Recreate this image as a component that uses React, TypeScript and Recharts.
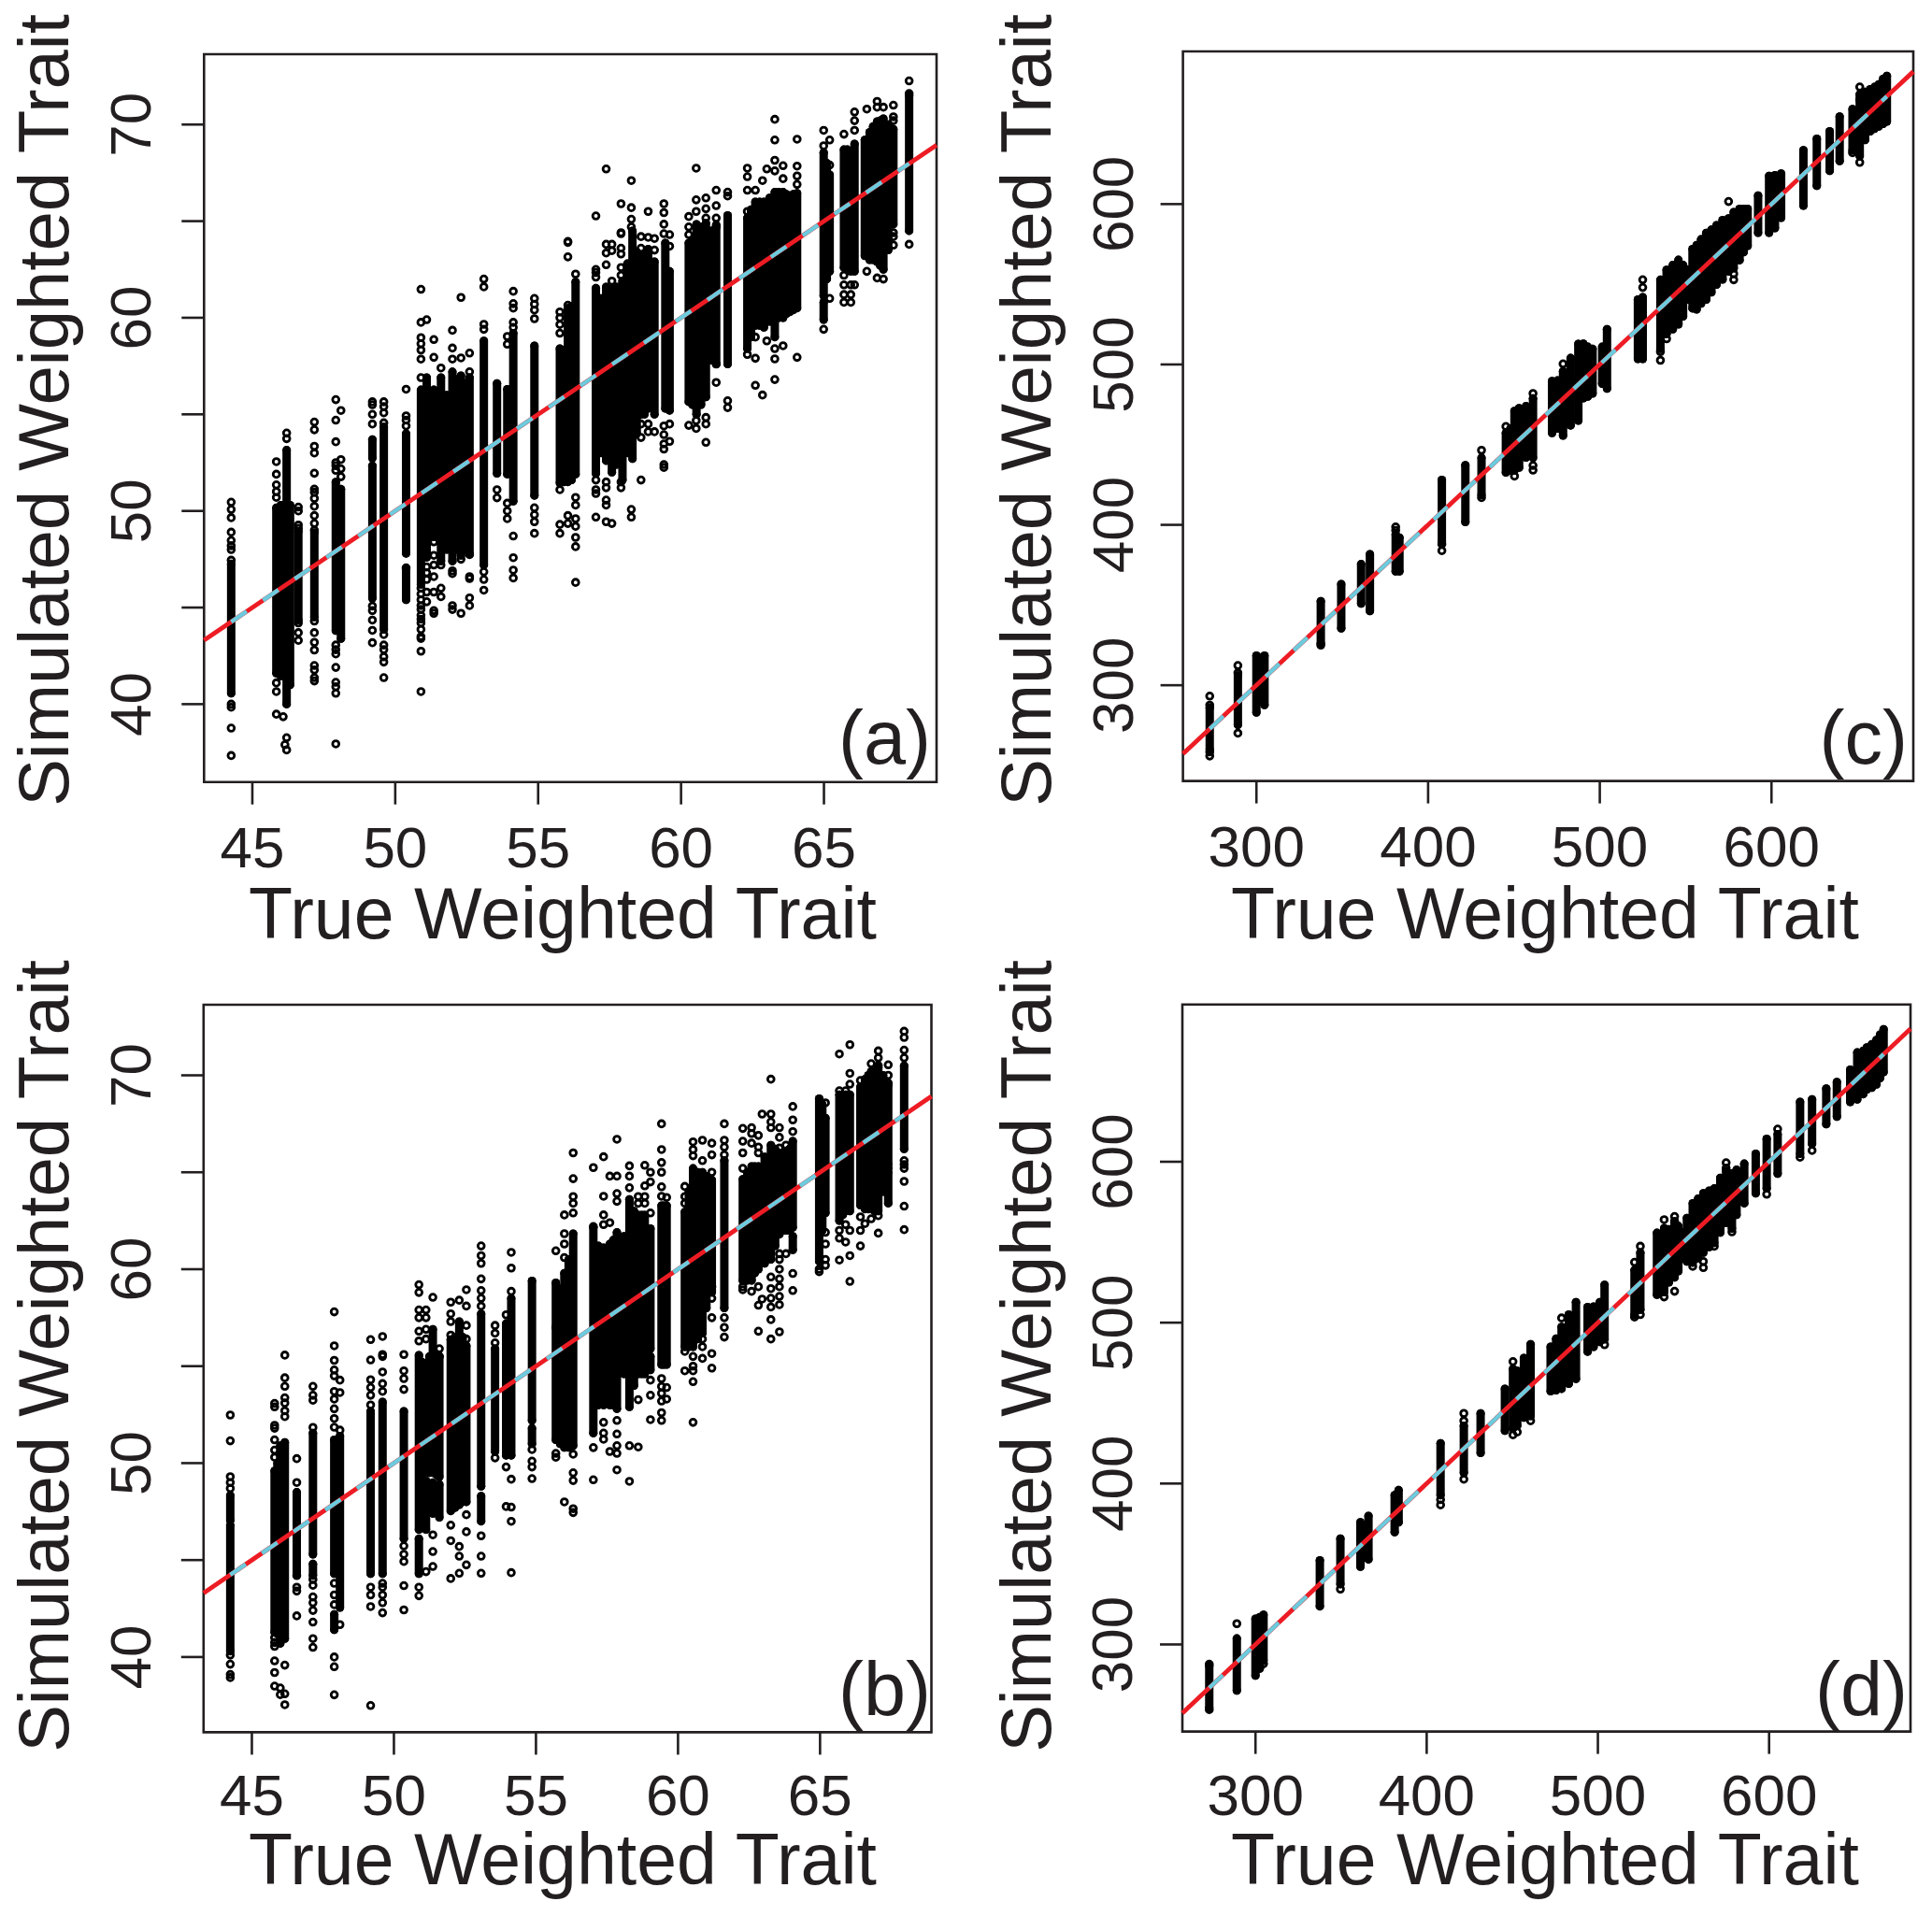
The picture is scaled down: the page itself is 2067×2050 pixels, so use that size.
import React from 'react';
import { ScatterChart, Scatter, XAxis, YAxis, ErrorBar, ReferenceLine, ReferenceArea } from 'recharts';

const xLabel = 'True Weighted Trait';
const yLabel = 'Simulated Weighted Trait';

const lowXTicks = [45, 50, 55, 60, 65];
const lowYTicks = [40, 45, 50, 55, 60, 65, 70];
const lowYLabels = [40, 50, 60, 70];
const highXTicks = [300, 400, 500, 600];
const highYTicks = [300, 400, 500, 600];

// Solid runs of overplotted points in panel (a): [true value, lowest, highest]
const aBands = [
  [44.26, 40.56, 47.26], [45.84, 41.6, 50.16], [46.0, 41.45, 50.3], [46.2, 40.0, 53.15], [46.32, 41.0, 50.3],
  [46.61, 44.35, 48.95], [47.17, 44.5, 48.87], [47.92, 43.8, 51.5], [48.1, 43.39, 51.13], [49.2, 52.74, 53.7],
  [49.2, 45.48, 52.34], [49.6, 43.87, 54.35], [50.38, 47.8, 54], [50.38, 45.4, 47], [50.9, 46.2, 56.27],
  [51.1, 47.6, 56.9], [51.22, 48.8, 56.2], [51.35, 48.66, 56.27], [51.6, 47.4, 56.9], [51.8, 48, 56], [52.0, 47.4, 57.2],
  [52.15, 48, 56.8], [52.3, 47.7, 57], [52.45, 48, 56.6], [52.6, 47.8, 56.9], [53.1, 47.2, 58.8], [53.56, 51.94, 56.6],
  [53.92, 51.9, 56.3], [54.13, 50.5, 59.2], [54.87, 50.8, 58.55], [55.76, 51.45, 58.4], [55.9, 51.5, 58.3],
  [56.04, 51.5, 60.5], [56.17, 51.6, 60.6], [56.31, 51.9, 61.85], [57.02, 51.94, 61.53], [57.2, 53, 61],
  [57.38, 52.6, 61.6], [57.58, 52.0, 61.5], [57.75, 52.4, 61.6], [57.95, 51.6, 61.9], [58.12, 53, 62.8], [58.3, 52.7, 64.5],
  [58.45, 54, 63.4], [58.6, 55, 63.2], [58.72, 55, 63.3], [58.85, 55.3, 63.55], [59.07, 55, 62.9], [59.45, 55.3, 63.87],
  [59.6, 55.2, 62.4], [60.27, 55.65, 63.87], [60.4, 55.5, 64], [60.54, 55, 64.84], [60.7, 55.5, 64.7], [60.87, 55.9, 64.9],
  [61.05, 57.8, 64.5], [61.23, 57.6, 64.8], [61.63, 57.6, 65.3], [62.32, 58.4, 65.16], [62.45, 59, 65.6],
  [62.6, 59.6, 66], [62.75, 59.6, 66], [62.9, 59.5, 66], [63.1, 59.8, 66.2], [63.28, 59, 66.5], [63.42, 60, 66.5], [63.57, 60, 66.5],
  [63.68, 60.2, 66.4], [63.8, 60.3, 66.3], [63.93, 60.4, 66.4], [64.06, 60.5, 66.45], [64.99, 61.13, 68.55], [64.99, 59.9, 60.8],
  [65.1, 62, 68], [65.2, 62.4, 67.4], [65.7, 62.6, 68.7], [65.82, 62.6, 68.7], [65.94, 62.4, 68.6], [66.07, 62.4, 69],
  [66.43, 63.2, 69.2], [66.6, 63, 69.6], [66.72, 63, 69.9], [66.86, 62.9, 70.16], [66.97, 62.7, 70.2],
  [67.08, 62.5, 70.3], [67.25, 63.5, 70], [67.43, 64.84, 69.76], [67.98, 64.5, 71.5],
];

// Separately visible points in panel (a): [true value, [simulated values]]
const aPoints = [
  [44.26, [50.45, 50.08, 49.65, 48.9, 48.47, 48.2, 48, 47.45, 40, 39.84, 38.76, 37.34]],
  [45.84, [52.55, 51.9, 51.35, 51, 50.7, 41.1, 40.65, 39.48]],
  [46.08, [39.35]],
  [46.2, [54.03, 53.74, 38.26, 37.63]],
  [46.14, [37.9]],
  [46.61, [50.2, 50, 49.27, 49.1, 44.2, 43.7, 43.3]],
  [47.17, [54.6, 54.2, 53.35, 53, 51.95, 51.13, 50.97, 50.65, 50.24, 49.76, 49.35, 49, 44.3, 43.7, 43.2, 42.8, 42, 41.77, 41.37, 41.2]],
  [47.92, [55.76, 54.7, 53.58, 52.5, 52.34, 52.1, 43.06, 42.82, 42.6, 41.9, 41.13, 40.9, 40.56, 37.94]],
  [48.1, [55.2, 52.66, 52.18, 51.77]],
  [49.2, [55.65, 55.5, 55, 54.5, 45.08, 44.84, 44.35, 43.82, 43.18]],
  [49.6, [55.65, 55.4, 55.08, 54.56, 43.6, 43.06, 42.82, 42.45, 42.18, 41.37]],
  [50.38, [56.3, 54.92, 54.7, 54.4, 47.05]],
  [50.9, [61.47, 59.76, 58.97, 58.65, 58.33, 57.86, 56.9, 46, 45.7, 45.4, 45.1, 44.9, 44.6, 44.4, 44.2, 43.87, 43.5, 43.4, 42.74, 40.65]],
  [51.1, [59.9, 47.1, 46.8, 46.45, 45.8, 45.3]],
  [51.35, [58.87, 57.95, 48.4, 47.7, 47.2, 46.6, 45.8, 44.84, 44.7]],
  [51.6, [57.4, 47.2, 46, 45.56]],
  [52.0, [59.35, 58.43, 57.86, 46.9, 46.76, 45.1, 44.9]],
  [52.3, [61.05, 57.92, 47.5, 44.7]],
  [52.6, [58.17, 57.2, 47.74, 46.6, 46.5, 45.5, 45.1]],
  [53.1, [62, 61.6, 59.66, 59.4, 46.85, 46.45, 45.9]],
  [53.56, [51.1, 50.68]],
  [53.92, [59.03, 58.63, 50.4, 50, 49.6]],
  [54.13, [61.37, 60.73, 60.5, 59.76, 59.5, 48.7, 47.58, 46.94, 46.53]],
  [54.87, [61, 60.7, 60.4, 59.95, 50.16, 49.8, 49.44, 48.84]],
  [55.76, [60.3, 60, 59.65, 59.2, 51.1, 49.3, 48.84]],
  [56.04, [63.95, 63.9, 63.15, 60.65, 49.76, 49.35]],
  [56.31, [62.26, 50.7, 50.3, 49.6, 49.2, 48.63, 48.15, 46.3]],
  [57.02, [65.27, 62.5, 62.34, 62.1, 51.6, 51.1, 50.9, 49.68]],
  [57.38, [67.7, 63.8, 63.35, 62.74, 51.5, 51.2, 50.56, 50.3, 49.44]],
  [57.58, [63.8, 63.47, 61.9, 49.35]],
  [57.9, [65.9, 64.35, 64.4, 63.6, 63.3, 62.6, 62.2, 51.5, 51.2]],
  [58.26, [67.1, 65.7, 65.1, 64.7, 50.08, 49.68]],
  [58.6, [64.2, 63.6, 54.5, 53.8, 51.6]],
  [58.85, [65.5, 64.16, 54.5, 54.1]],
  [59.07, [64.1, 63.5, 54.1]],
  [59.4, [65.9, 65.44, 64.84, 64.35, 54.4, 53.95, 53.47, 53.2, 52.4, 52.25]],
  [59.6, [64.3, 63.7, 54.5, 53.6]],
  [60.27, [65.24, 64.7, 64.3, 54.43]],
  [60.53, [67.74, 66.1, 65.5, 54.68, 54.27]],
  [60.87, [66.2, 65.64, 65.16, 54.84, 54.5, 53.55]],
  [61.23, [66.6, 65.8, 65.16, 64.7, 57.6, 56.65]],
  [61.63, [66.5, 66.3, 55.7, 55.35]],
  [62.32, [67.74, 67.3, 66.6, 65.5, 58.1]],
  [62.6, [66.6, 57.9, 56.5, 59]],
  [62.85, [67.1, 56]],
  [63, [67.7, 58.8]],
  [63.28, [70.27, 69.2, 68.15, 67.6, 58.4, 57.87, 56.8]],
  [63.57, [67.87, 67.2, 58.55]],
  [64.06, [69.24, 67.85, 67.34, 66.9, 57.95]],
  [64.99, [69.7, 68.9, 59.4]],
  [65.2, [69.2, 67.9, 61]],
  [65.7, [69.5, 62.2, 61.7, 61.2, 60.8]],
  [65.94, [61.7, 61.2, 60.8]],
  [66.07, [70.65, 70.2, 69.7, 61.7]],
  [66.5, [70.8, 62.4]],
  [66.86, [71.2, 70.9, 62.06]],
  [67.08, [70.9, 62]],
  [67.43, [71, 70.4, 70.2, 64.4, 64.2, 63.76]],
  [67.98, [72.26, 71.6, 63.8]],
];

// Solid runs in panel (b)
const bBands = [
  [44.24, 47.05, 48.34], [44.24, 40.3, 46.8], [45.8, 41.27, 49.6], [45.9, 41.2, 50], [46, 40.7, 50.9], [46.08, 41, 50.6], [46.16, 40.95, 51.07],
  [46.58, 44.3, 48.5], [47.15, 45.3, 51.55], [47.15, 44.2, 44.8], [47.9, 44.3, 51.2], [47.9, 41.4, 42.2],
  [48.1, 42.55, 51.4], [49.18, 44.3, 52.67], [49.6, 44.3, 53.16], [50.35, 46.1, 52.67], [50.88, 46.57, 55.57],
  [50.88, 44.3, 46.1], [51, 48, 55.2], [51.13, 49.6, 54.9], [51.13, 46.57, 49.1], [51.25, 49.5, 55.5], [51.37, 49.5, 56.9], [51.37, 47.4, 49],
  [51.5, 49.4, 55.5], [51.6, 49.3, 55.5], [51.6, 47.2, 48.9], [52, 47.53, 56.37], [52.15, 47.7, 56.5], [52.3, 47.85, 57.3], [52.42, 48, 56.5], [52.55, 48, 56.05],
  [53.07, 48.8, 57.7], [53.07, 47, 48.3], [53.56, 50.6, 55.9], [53.95, 50.4, 57.2], [54.13, 50.4, 58.5],
  [54.86, 52.2, 59.4], [54.86, 51, 51.8], [55.7, 51.2, 57], [55.7, 57, 59.3], [55.85, 51, 59], [56, 50.8, 59.8], [56.15, 50.8, 60.5],
  [56.31, 50.9, 61.83], [57.02, 51.55, 62.15], [57.2, 53, 61.2], [57.38, 53, 61], [57.6, 53, 61.3], [57.72, 53, 61.5], [57.85, 52.8, 61.9],
  [58.1, 54.6, 61.7], [58.29, 52.9, 63.6], [58.45, 54, 63], [58.6, 54.6, 62.8], [58.72, 54.6, 62.8], [58.83, 54.6, 62.8], [59.03, 55.9, 62.1],
  [59.03, 54.8, 55.5], [59.42, 55.08, 63.28], [59.5, 55.08, 63.28], [59.6, 55.08, 63.28], [60.24, 56, 62.95], [60.38, 56, 64], [60.53, 56, 65.2],
  [60.7, 56.4, 65], [60.86, 56.7, 65], [61, 58, 64.8], [61.19, 58.8, 64.6], [61.63, 58, 65.6], [62.28, 59.42, 64.64], [62.44, 59.42, 65], [62.59, 59.42, 65.3],
  [62.7, 59.8, 65.3], [62.83, 60, 65.3], [63.05, 60.3, 65.8], [63.27, 60.5, 66.4], [63.42, 61.2, 66.2], [63.57, 61.8, 66], [63.7, 62, 66], [63.8, 62, 66], [63.92, 62, 66.2], [64.04, 62.15, 66.6],
  [64.04, 61, 61.7], [64.97, 60.4, 68.8], [65.08, 62, 68.5], [65.19, 62.9, 67.8], [65.68, 62.5, 69], [65.8, 62.8, 69], [65.9, 63, 69],
  [66.05, 63, 69], [66.42, 63.3, 69.4], [66.58, 63.1, 69.8], [66.7, 63.1, 70], [66.8, 63.1, 70.2], [66.92, 63, 70.3], [67.05, 63, 70.4], [67.22, 64, 70],
  [67.4, 65.4, 69.5], [67.4, 63.4, 65], [67.96, 66.2, 70.5],
];

const bPoints = [
  [44.24, [52.48, 51.15, 49.3, 49, 48.7, 40.1, 39.63, 39.1, 38.94]],
  [45.8, [53.08, 52.9, 51.95, 51.8, 51.2, 50.67, 50.3, 41, 40.75, 40.55, 39.8, 39.2, 38.5]],
  [46, [38.06, 38.4]],
  [46.16, [55.57, 54.4, 53.96, 53.37, 53.1, 52.7, 52.4, 39.58, 38.1, 37.54]],
  [46.58, [50.23, 49, 44.2, 43.6, 43.4, 42.12]],
  [47.15, [53.96, 53.5, 53.24, 51.84, 44, 43.7, 43.1, 42.8, 42.4, 41.8, 40.95, 40.5]],
  [47.9, [57.8, 56.05, 55.3, 54.8, 54.5, 53.7, 53.3, 52.8, 52.3, 51.85, 43.8, 43.2, 42.7, 40, 39.5, 38.05]],
  [48.1, [54.28, 53.64, 51.7, 41.67]],
  [49.18, [56.37, 55.32, 54.3, 53.9, 53.5, 53, 43.6, 43.2, 42.6, 37.5]],
  [49.6, [56.53, 55.6, 55.5, 54.7, 54.1, 53.7, 43.8, 43.6, 43.2, 42.8, 42.28]],
  [50.35, [55.6, 54.76, 54.36, 53.8, 45.73, 45.3, 44.93, 43.68, 42.43]],
  [50.88, [59.2, 58.8, 57.9, 57.5, 56.8, 56.3, 43.6, 43.16]],
  [51.13, [57.9, 57.5, 56.9, 56.4, 44.4]],
  [51.37, [58.55, 46.3, 45.44, 44.67]],
  [51.6, [55.9, 55.5]],
  [52, [58.3, 57.7, 57.3, 56.6, 46.8, 46, 44.05]],
  [52.3, [58.4, 45.7, 45.2, 44.32]],
  [52.55, [58.94, 58.1, 57.1, 56.4, 47.34, 46.46, 44.75]],
  [53.07, [61.2, 60.7, 60.3, 59.5, 58.9, 58.5, 58.1, 46.25, 45.2, 44.32]],
  [53.56, [57.1, 56.7, 56.2, 50.27]],
  [53.95, [57.65, 49.8, 47.76]],
  [54.13, [60.87, 60.06, 58.86, 49.17, 47.73, 47, 44.35]],
  [54.86, [50.7, 50.1, 49.8, 49.2]],
  [55.7, [60.95, 50.5, 50.3]],
  [56, [62.8, 61.83, 61.3, 60.6, 48]],
  [56.31, [66, 64.67, 63.75, 63.4, 62.9, 50.46, 49.5, 49.1, 47.65, 47.45]],
  [57.02, [65.24, 62.2, 50.8, 49.14]],
  [57.38, [65.8, 63.76, 62.8, 62.3, 61.1, 52.1, 51.55, 51.23]],
  [57.6, [64.8, 62.4, 50.6]],
  [57.85, [66.7, 64.8, 63.9, 63.5, 52.2, 51.5, 50.9, 50.5, 49.65]],
  [58.29, [65.33, 64.8, 64.2, 50.9, 49.06]],
  [58.6, [63.75, 63.4, 53.27, 50.83]],
  [58.83, [65.36, 64.3, 63.75, 63.4]],
  [59.03, [65, 64.5, 62.9, 54.28, 53.5, 52.24]],
  [59.42, [67.5, 66.17, 65.5, 65, 64.25, 63.76, 54.36, 53.95, 53.6, 53.2, 52.6, 52.2]],
  [59.6, [63.7, 53.9, 53.3]],
  [60.24, [64.27, 63.75, 63.4, 55.76, 54.76]],
  [60.53, [66.57, 66.17, 65.85, 55.5, 55, 54.76, 54.2, 52.1]],
  [60.86, [66.65, 65.6, 56.4, 56, 55.4]],
  [61.19, [66.5, 65.9, 65, 59.1, 58.5, 57.5, 55.65, 54.9]],
  [61.63, [67.5, 66.65, 66.3, 65.9, 57.5, 57, 56.5]],
  [62.28, [67.26, 66.6, 66, 65.2, 59.1, 58.94]],
  [62.59, [67.3, 67, 66.5, 58.86]],
  [62.83, [66.9, 66.3, 66, 59.1, 58.14, 56.8]],
  [62.96, [68, 58.46]],
  [63.27, [69.8, 68, 67.6, 67.3, 59.6, 59, 58.5, 58.05, 57.4, 56.4]],
  [63.57, [67.3, 66.8, 66.25, 60.8, 60.5, 60, 59.5, 59.1, 58.6, 58.17, 56.77]],
  [63.8, [66.4, 60.8]],
  [64.04, [68.39, 67.7, 67.1, 59.78, 58.9]],
  [64.97, [60, 59.87]],
  [65.19, [68.58, 61.9, 61.3, 60.5, 60.2]],
  [65.68, [71.1, 69.2, 62, 61.6, 60.47]],
  [65.9, [69.2, 62.3, 61.4]],
  [66.05, [71.58, 70.1, 69.54, 62, 60.7, 59.37]],
  [66.42, [69.73, 62.7, 62, 61.2]],
  [66.58, [62.35]],
  [66.8, [70.6, 62.6]],
  [67.05, [71.26, 70.9, 70.5, 62.76, 61.86]],
  [67.4, [70.54, 70, 69.6, 65.2]],
  [67.96, [72.27, 71.95, 71.3, 70.9, 65.6, 65.4, 65.2, 64.53, 63.25, 62.04]],
];

// Solid runs in panel (c)
const cBands = [
  [272.8, 260, 286], [289.2, 275.3, 306], [300, 283, 318.5], [302.8, 290.7, 317], [304.7, 287.7, 318.5],
  [337.5, 326.2, 352.4], [349.4, 335.5, 363], [361, 350.9, 375.5], [366.1, 346.3, 381.7], [381.1, 371, 394],
  [383.3, 371, 392], [408, 389.4, 428], [421.7, 401.8, 437.2], [431.1, 418.7, 441.8], [445.3, 432.6, 457.3], [447.9, 434, 460],
  [450.3, 434, 471], [453, 435.7, 472.7], [457, 442, 474], [461.1, 441.8, 478.8], [472.2, 457.3, 489.6], [475.4, 460, 490], [478.6, 455.7, 495.8],
  [483, 462, 504], [487.5, 465, 512.8], [490.4, 479, 513], [493, 480, 511], [495.8, 481.9, 509.7], [501.4, 488, 511], [504.2, 485, 522],
  [522.2, 503.5, 540.5], [525, 503.5, 542], [535.3, 509.7, 552.8], [538.9, 519, 559], [542.5, 522, 562], [545.8, 525, 565.2], [548.5, 530, 562],
  [551.4, 540.5, 559], [554, 535, 572], [556.4, 534.3, 574.4], [559, 538, 578], [562, 540.5, 582], [565, 545, 584], [568, 549.8, 586.8], [571.5, 553, 590], [575, 558, 591],
  [578, 560, 595], [581.4, 565, 597], [583.8, 570, 597], [586.1, 574, 597], [592.2, 582.1, 605.3], [598.6, 582.1, 617.6], [602, 585, 618],
  [605.6, 591.4, 619], [618.6, 599, 633.6], [626.4, 611.4, 640.7], [633.9, 620.7, 645.4], [639.7, 626.9, 654.6],
  [647.2, 633.6, 659.2], [651.4, 630, 668.5], [654.5, 640, 670], [657.5, 645.4, 671.6], [660, 647, 673], [662.5, 648.4, 674.7], [665, 650, 678], [667.2, 651.5, 679.9],
];
const cPoints = [
  [272.8, [293.2, 287.6, 258.4, 255.9]],
  [289.2, [312.3, 307.7, 270.1]],
  [337.5, [325]],
  [381.1, [398.7, 396.5]],
  [408, [383.9, 388]],
  [431.1, [446.5, 417]],
  [445.3, [461.3]],
  [450.3, [430.4]],
  [461.1, [481.9, 434.1, 437]],
  [478.6, [500.4]],
  [525, [552.8, 548]],
  [535.3, [502.6, 508]],
  [538.9, [516]],
  [575, [601.6]],
  [578, [556.5, 552.8]],
  [651.4, [673, 665, 626]],
  [647.2, [632]],
];

// Solid runs in panel (d)
const dBands = [
  [273, 260.7, 286.8], [289.1, 271.4, 303.7], [300, 280.6, 316], [302.5, 285, 317], [304.7, 289.9, 318.4], [337.6, 323.7, 352.3],
  [349.6, 337.5, 365.8], [361.3, 348.3, 375.9], [366, 352.9, 379.9], [381.3, 369.8, 392.8], [383.6, 375.9, 395.9],
  [408.1, 392.8, 425], [421.7, 406.7, 435.9], [431.5, 419, 443.6], [445.7, 432.8, 458.9], [450.4, 434.3, 471.2],
  [452.9, 436, 470], [456.8, 441, 478], [460.7, 442, 486.6], [472.4, 457.4, 485], [475.6, 458, 490], [478.8, 458.9, 497.4], [483, 462, 505], [487.2, 465.1, 512.7],
  [494, 482, 509.7], [497.5, 485, 510], [501.1, 488, 512.7], [503.9, 489.7, 523.5], [521.4, 505, 532.7], [524.8, 508.1, 543.5],
  [534.5, 517.3, 555.8], [538.7, 518.9, 558.8], [541.5, 525, 558], [544.8, 528.1, 561.9], [547, 532, 560], [549.7, 540, 556], [552, 538, 565], [555.4, 537.3, 574.2],
  [558.5, 540, 577], [561.6, 543.5, 580.4], [565, 547, 582], [568, 549.6, 583.4], [571.5, 556, 590], [574.9, 561.9, 594.2], [578.3, 558.5, 592.7], [581, 567, 595], [585.5, 574.2, 598.8],
  [592.2, 580.4, 605], [598.6, 583.4, 614.2], [605, 592.6, 617.2], [618.1, 605, 637.2], [625.1, 611.1, 638.8],
  [633.4, 623.4, 645.5], [639.6, 628, 649.5], [647.4, 637.2, 657.2], [651.5, 638.8, 667.9], [655, 642, 669], [657.1, 644.9, 671], [660, 646, 673],
  [662.7, 648, 675.7], [664.8, 652, 679], [666.9, 655.7, 682.4],
];
const dPoints = [
  [273, [287.7, 259.5]],
  [289.1, [312.9]],
  [304.7, [288]],
  [349.6, [334.4]],
  [408.1, [390, 386.7]],
  [421.7, [443.6, 439, 402.7]],
  [450.4, [475.8, 430.3]],
  [452.9, [432]],
  [460.7, [439]],
  [478.8, [502.9]],
  [503.9, [486.3]],
  [521.4, [537.5, 503.5]],
  [524.8, [547.5, 505]],
  [538.7, [564, 516]],
  [544.8, [566, 519.5, 563]],
  [555.4, [535]],
  [561.6, [534.2, 538, 578.5]],
  [568, [547.5]],
  [574.9, [599.4, 596]],
  [578.3, [556.4]],
  [598.6, [579.8]],
  [605, [620.3]],
  [618.1, [602.8]],
  [625.1, [607]],
];

const ink = '#231f20';
const ring = (p: any) => <circle cx={p.cx} cy={p.cy} r={3.4} fill="none" stroke="#000" strokeWidth={2.8} />;
const noMark = () => <g />;

const toBandRows = (bands: number[][]) =>
  bands.map(([x, lo, hi]) => {
    const mid = (lo + hi) / 2;
    return { x, y: mid, spread: [mid - lo, hi - mid] };
  });
const toPointRows = (cols: any[]) =>
  cols.flatMap(([x, ys]: [number, number[]]) => ys.map((y) => ({ x, y })));

function Panel({ frame, xDomain, yDomain, xTicks, yTicks, yTickLabels, bands, points, fitFrom, fitTo, letter, xLabelX, xLabelY, yLabelY, yLabelX, letterX, letterY, xTickGap, yTickGap }: any) {
  const xTick = (p: any) => (
    <text x={p.x} y={p.y} textAnchor="middle" fontSize={62} fontFamily="Liberation Sans" fill={ink}>{p.payload.value}</text>
  );
  const yTick = (p: any) =>
    yTickLabels.includes(p.payload.value) ? (
      <text x={p.x} y={p.y} textAnchor="middle" fontSize={62} fontFamily="Liberation Sans" fill={ink} transform={`rotate(-90 ${p.x} ${p.y})`}>{p.payload.value}</text>
    ) : (
      <g />
    );
  return (
    <div style={{ position: 'absolute', left: 0, top: 0 }}>
      <ScatterChart width={2067} height={2050} margin={{ top: frame.top, right: 2067 - frame.right, left: 0, bottom: 0 }}>
        <XAxis type="number" dataKey="x" domain={xDomain} ticks={xTicks} interval={0} allowDataOverflow height={2050 - frame.bottom} tickSize={24} tickMargin={xTickGap} axisLine={false} tickLine={{ stroke: ink, strokeWidth: 2.6 }} tick={xTick} />
        <YAxis type="number" dataKey="y" domain={yDomain} ticks={yTicks} interval={0} allowDataOverflow width={frame.left} tickSize={24} tickMargin={yTickGap} axisLine={false} tickLine={{ stroke: ink, strokeWidth: 2.6 }} tick={yTick} />
        <Scatter data={toBandRows(bands)} shape={noMark} isAnimationActive={false}>
          <ErrorBar dataKey="spread" direction="y" width={0} stroke="#000" strokeWidth={9} strokeLinecap="round" isAnimationActive={false} />
        </Scatter>
        <Scatter data={toPointRows(points)} shape={ring} isAnimationActive={false} />
        <ReferenceLine segment={[{ x: xDomain[0], y: xDomain[0] }, { x: xDomain[1], y: xDomain[1] }]} stroke="#ed1c24" strokeWidth={4.8} />
        <ReferenceLine segment={[{ x: fitFrom, y: fitFrom }, { x: fitTo, y: fitTo }]} stroke="#6ccbdd" strokeWidth={4.4} strokeDasharray="20 21" />
        <ReferenceArea x1={xDomain[0]} x2={xDomain[1]} y1={yDomain[0]} y2={yDomain[1]} fill="none" stroke={ink} strokeWidth={2.6} />
        <text x={xLabelX} y={xLabelY} textAnchor="middle" fontSize={77} fontFamily="Liberation Sans" fill={ink}>{xLabel}</text>
        <text x={yLabelX} y={yLabelY} textAnchor="middle" fontSize={76} fontFamily="Liberation Sans" fill={ink} transform={`rotate(-90 ${yLabelX} ${yLabelY})`}>{yLabel}</text>
        <text x={letterX} y={letterY} textAnchor="end" fontSize={81} fontFamily="Liberation Sans" fill={ink}>{letter}</text>
      </ScatterChart>
    </div>
  );
}

export default function App() {
  return (
    <div style={{ position: 'absolute', left: 0, top: 0, width: 2067, height: 2050, background: '#fff', overflow: 'hidden' }}>
      <Panel frame={{ left: 218.3, right: 1002, top: 58, bottom: 836.7 }} xDomain={[43.31, 68.94]} yDomain={[35.97, 73.64]}
        xTicks={lowXTicks} yTicks={lowYTicks} yTickLabels={lowYLabels} bands={aBands} points={aPoints} fitFrom={44.26} fitTo={67.98}
        letter="(a)" xLabelX={602} xLabelY={1004} yLabelX={72.5} yLabelY={439} letterX={996} letterY={817} xTickGap={67} yTickGap={33} />
      <Panel frame={{ left: 217.8, right: 996.5, top: 1075, bottom: 1853.4 }} xDomain={[43.3, 68.92]} yDomain={[36.12, 73.64]}
        xTicks={lowXTicks} yTicks={lowYTicks} yTickLabels={lowYLabels} bands={bBands} points={bPoints} fitFrom={44.24} fitTo={67.96}
        letter="(b)" xLabelX={602} xLabelY={2016} yLabelX={72.5} yLabelY={1451} letterX={996} letterY={1835} xTickGap={65} yTickGap={33} />
      <Panel frame={{ left: 1265.6, right: 2047, top: 55, bottom: 835.6 }} xDomain={[257.2, 682.6]} yDomain={[240.3, 695.2]}
        xTicks={highXTicks} yTicks={highYTicks} yTickLabels={highYTicks} bands={cBands} points={cPoints} fitFrom={272.8} fitTo={667.2}
        letter="(c)" xLabelX={1653} xLabelY={1004} yLabelX={1124} yLabelY={439} letterX={2041} letterY={817} xTickGap={67} yTickGap={30} />
      <Panel frame={{ left: 1265, right: 2044, top: 1074.8, bottom: 1852.6 }} xDomain={[257.3, 682.6]} yDomain={[245.9, 697.7]}
        xTicks={highXTicks} yTicks={highYTicks} yTickLabels={highYTicks} bands={dBands} points={dPoints} fitFrom={273} fitTo={666.9}
        letter="(d)" xLabelX={1653} xLabelY={2016} yLabelX={1124} yLabelY={1451} letterX={2041} letterY={1835} xTickGap={65} yTickGap={30} />
    </div>
  );
}
